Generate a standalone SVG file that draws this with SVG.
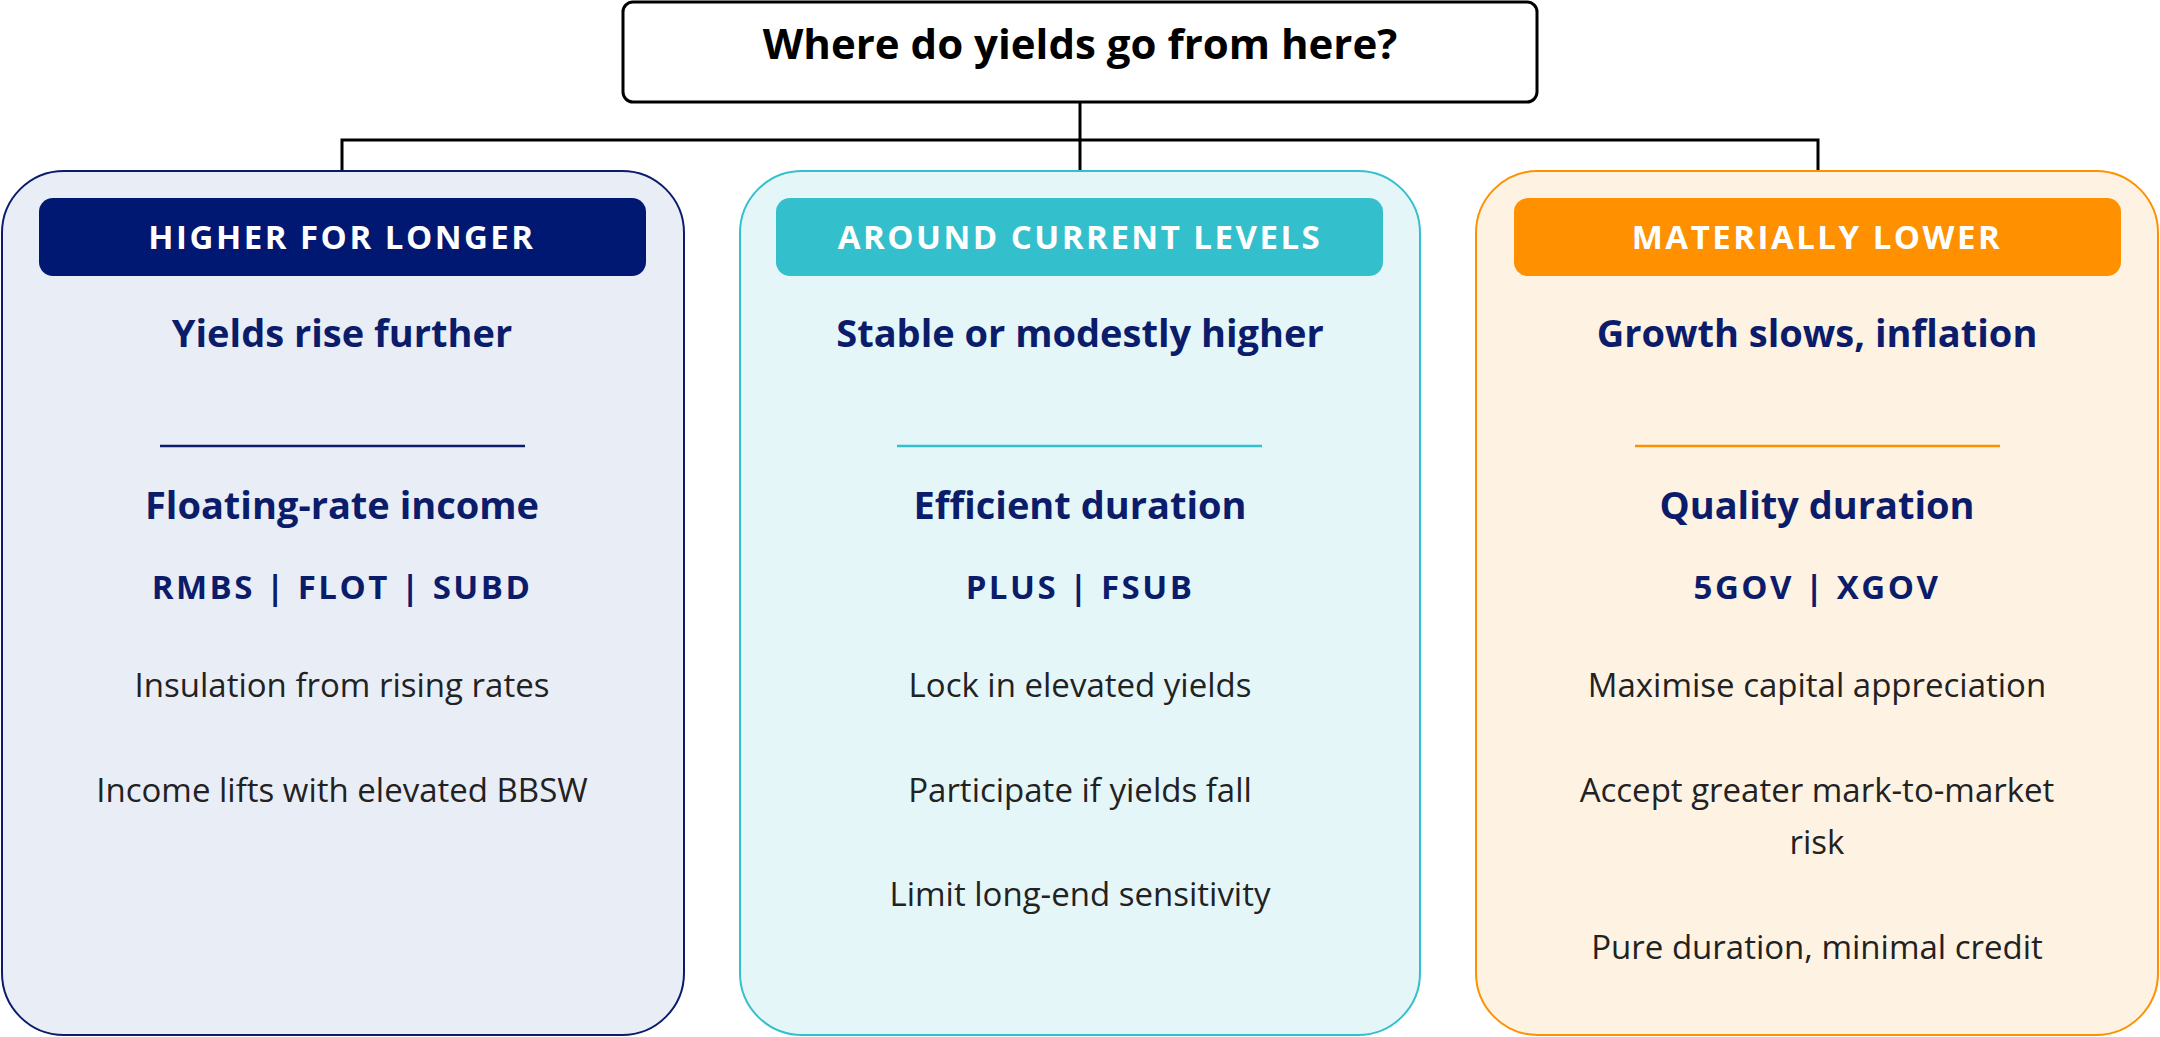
<svg xmlns="http://www.w3.org/2000/svg" width="2160" height="1037" viewBox="0 0 2160 1037">
<style>
text{font-family:"Open Sans","Noto Sans",sans-serif;text-anchor:middle}
.t{font-size:42px;font-weight:700;fill:#000}
.h{font-size:33px;font-weight:700;fill:#fff;letter-spacing:2.5px}
.s{font-size:38px;font-weight:700;fill:#0b1c6b}
.c{font-size:33px;font-weight:700;fill:#0b1c6b;letter-spacing:2.5px}
.b{font-size:33px;fill:#222}
.con{fill:none;stroke:#000;stroke-width:3}
</style>
<g id="connectors">
<path class="con" d="M1080 102V171M342 171V140H1818V171"/>
</g>
<g id="title">
<rect x="623" y="2" width="914" height="100" rx="10" fill="#fff" stroke="#000" stroke-width="3"/>
<text class="t" x="1080" y="59">Where do yields go from here?</text>
</g>
<g id="higher">
<rect x="2" y="171" width="682" height="864" rx="62" fill="#e9edf6" stroke="#0b1c6b" stroke-width="2"/>
<rect x="39" y="198" width="607" height="78" rx="14" fill="#001872"/>
<text class="h" x="342" y="249">HIGHER FOR LONGER</text>
<text class="s" x="342" y="347">Yields rise further</text>
<line x1="160" y1="446" x2="525" y2="446" stroke="#0b1c6b" stroke-width="2.5"/>
<text class="s" x="342" y="519">Floating-rate income</text>
<text class="c" x="342" y="599">RMBS | FLOT | SUBD</text>
<text class="b" x="342" y="697">Insulation from rising rates</text>
<text class="b" x="342" y="802">Income lifts with elevated BBSW</text>
</g>
<g id="around">
<rect x="740" y="171" width="680" height="864" rx="62" fill="#e5f6f9" stroke="#33c0cc" stroke-width="2"/>
<rect x="776" y="198" width="607" height="78" rx="14" fill="#33c0cc"/>
<text class="h" x="1080" y="249">AROUND CURRENT LEVELS</text>
<text class="s" x="1080" y="347">Stable or modestly higher</text>
<line x1="897" y1="446" x2="1262" y2="446" stroke="#33c0cc" stroke-width="2.5"/>
<text class="s" x="1080" y="519">Efficient duration</text>
<text class="c" x="1080" y="599">PLUS | FSUB</text>
<text class="b" x="1080" y="697">Lock in elevated yields</text>
<text class="b" x="1080" y="802">Participate if yields fall</text>
<text class="b" x="1080" y="906">Limit long-end sensitivity</text>
</g>
<g id="lower">
<rect x="1476" y="171" width="682" height="864" rx="62" fill="#fef2e3" stroke="#ff9000" stroke-width="2"/>
<rect x="1514" y="198" width="607" height="78" rx="14" fill="#ff9000"/>
<text class="h" x="1817" y="249">MATERIALLY LOWER</text>
<text class="s" x="1817" y="347">Growth slows, inflation</text>
<line x1="1635" y1="446" x2="2000" y2="446" stroke="#ff9000" stroke-width="2.5"/>
<text class="s" x="1817" y="519">Quality duration</text>
<text class="c" x="1817" y="599">5GOV | XGOV</text>
<text class="b" x="1817" y="697">Maximise capital appreciation</text>
<text class="b" x="1817" y="802">Accept greater mark-to-market</text>
<text class="b" x="1817" y="854">risk</text>
<text class="b" x="1817" y="959">Pure duration, minimal credit</text>
</g>
</svg>
